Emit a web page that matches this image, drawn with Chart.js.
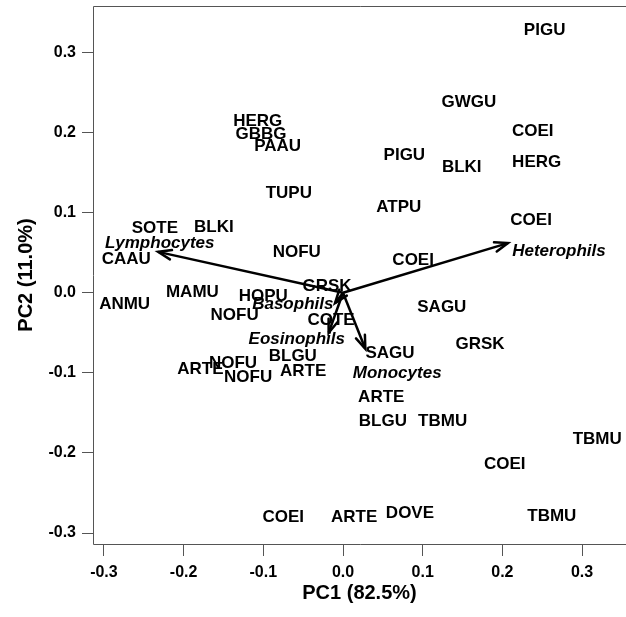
<!DOCTYPE html>
<html>
<head>
<meta charset="utf-8">
<script src="https://cdn.jsdelivr.net/npm/chart.js@4"></script>
<style>
  body { margin: 0; background: #fff; }
  canvas { display: block; }
</style>
</head>
<body>
<canvas id="pcaChart" width="626" height="617"></canvas>
<script>
// Site/species scores (PC1, PC2)
const birdLabels = ['PIGU', 'GWGU', 'COEI', 'HERG', 'GBBG', 'PAAU', 'PIGU', 'BLKI', 'HERG', 'TUPU',
    'ATPU', 'COEI', 'SOTE', 'BLKI', 'CAAU', 'NOFU', 'COEI', 'ANMU', 'MAMU', 'HOPU',
    'GRSK', 'NOFU', 'COTE', 'SAGU', 'GRSK', 'SAGU', 'BLGU', 'NOFU', 'ARTE', 'NOFU',
    'ARTE', 'ARTE', 'BLGU', 'TBMU', 'TBMU', 'COEI', 'COEI', 'ARTE', 'DOVE', 'TBMU'];
const pc1 = [0.253, 0.158, 0.238, -0.107, -0.103, -0.082, 0.077, 0.149, 0.243, -0.068,
    0.070, 0.236, -0.236, -0.162, -0.272, -0.058, 0.088, -0.274, -0.189, -0.100,
    -0.020, -0.136, -0.015, 0.124, 0.172, 0.059, -0.063, -0.138, -0.179, -0.119,
    -0.050, 0.048, 0.050, 0.125, 0.319, 0.203, -0.075, 0.014, 0.084, 0.262];
const pc2 = [0.328, 0.238, 0.201, 0.214, 0.198, 0.183, 0.172, 0.157, 0.163, 0.124,
    0.107, 0.091, 0.080, 0.082, 0.042, 0.051, 0.041, -0.015, 0.000, -0.004,
    0.008, -0.028, -0.034, -0.018, -0.064, -0.076, -0.079, -0.088, -0.096, -0.105,
    -0.098, -0.130, -0.161, -0.161, -0.183, -0.214, -0.280, -0.281, -0.275, -0.279];

// Loadings (arrows) and where their names sit
const cellTypes = ['Lymphocytes', 'Heterophils', 'Monocytes', 'Eosinophils', 'Basophils'];
const loadX = [-0.232, 0.207, 0.028, -0.018, -0.010];
const loadY = [0.051, 0.062, -0.070, -0.050, -0.013];
const cellLabelX = [-0.230, 0.271, 0.068, -0.058, -0.063];
const cellLabelY = [0.062, 0.052, -0.100, -0.058, -0.014];

const tickValues = [-0.3, -0.2, -0.1, 0.0, 0.1, 0.2, 0.3];

const FONT = '"Liberation Sans", Arial, sans-serif';

// Build datasets
const scorePoints = pc1.map((x, i) => ({ x: x, y: pc2[i] }));
const arrowSets = cellTypes.map((name, i) => ({
    type: 'line',
    label: name,
    data: [{ x: 0, y: 0 }, { x: loadX[i], y: loadY[i] }],
    borderColor: '#000',
    borderWidth: 2.5,
    pointRadius: 0,
    fill: false
}));

// no extra room for edge tick labels, the frame is fixed
function noEdgePadding(axis) {
    axis.paddingTop = 0;
    axis.paddingBottom = 0;
    axis.paddingLeft = 0;
    axis.paddingRight = 0;
}

// Draw frame, text labels and arrow heads
const biplotPlugin = {
    id: 'biplot',
    beforeDatasetsDraw(chart) {
        const ctx = chart.ctx;
        const a = chart.chartArea;
        ctx.save();
        ctx.strokeStyle = '#555';
        ctx.lineWidth = 1;
        ctx.beginPath();
        ctx.moveTo(a.right + 5, a.top + 0.5);
        ctx.lineTo(a.left + 0.5, a.top + 0.5);
        ctx.lineTo(a.left + 0.5, a.bottom + 0.5);
        ctx.lineTo(a.right + 5, a.bottom + 0.5);
        ctx.stroke();
        ctx.restore();
    },
    afterDatasetsDraw(chart) {
        const ctx = chart.ctx;
        const xs = chart.scales.x;
        const ys = chart.scales.y;
        ctx.save();
        ctx.fillStyle = '#000';
        ctx.textAlign = 'center';
        ctx.textBaseline = 'middle';

        ctx.font = 'bold 17px ' + FONT;
        const meta = chart.getDatasetMeta(0);
        meta.data.forEach((pt, i) => {
            ctx.fillText(birdLabels[i], pt.x, pt.y);
        });

        // arrow heads
        ctx.strokeStyle = '#000';
        ctx.lineWidth = 2.5;
        ctx.lineCap = 'round';
        for (let i = 0; i < cellTypes.length; i++) {
            const m = chart.getDatasetMeta(i + 1);
            const p0 = m.data[0], p1 = m.data[1];
            const ang = Math.atan2(p1.y - p0.y, p1.x - p0.x);
            const len = 14, spread = Math.PI / 9;
            ctx.beginPath();
            ctx.moveTo(p1.x - len * Math.cos(ang - spread), p1.y - len * Math.sin(ang - spread));
            ctx.lineTo(p1.x, p1.y);
            ctx.lineTo(p1.x - len * Math.cos(ang + spread), p1.y - len * Math.sin(ang + spread));
            ctx.stroke();
        }

        ctx.font = 'italic bold 17px ' + FONT;
        cellTypes.forEach((name, i) => {
            ctx.fillText(name, xs.getPixelForValue(cellLabelX[i]), ys.getPixelForValue(cellLabelY[i]));
        });
        ctx.restore();
    }
};

new Chart(document.getElementById('pcaChart'), {
    type: 'scatter',
    data: {
        datasets: [{
            label: 'scores',
            data: scorePoints,
            pointRadius: 0,
            pointHoverRadius: 0
        }].concat(arrowSets)
    },
    options: {
        responsive: false,
        animation: false,
        layout: { padding: { top: 6, right: 0, bottom: 0, left: 0 } },
        plugins: {
            legend: { display: false },
            tooltip: { enabled: false }
        },
        scales: {
            x: {
                type: 'linear',
                min: -0.3137,
                max: 0.3551,
                afterBuildTicks: axis => { axis.ticks = tickValues.map(v => ({ value: v })); },
                afterFit: axis => { axis.height = 73; noEdgePadding(axis); },
                grid: { drawOnChartArea: false, drawTicks: true, tickLength: 12, color: '#555' },
                border: { display: false },
                ticks: {
                    padding: 7,
                    color: '#000',
                    font: { family: FONT, size: 16, weight: 'bold' },
                    callback: v => v.toFixed(1)
                },
                title: {
                    display: true,
                    text: 'PC1 (82.5%)',
                    color: '#000',
                    font: { family: FONT, size: 20, weight: 'bold' },
                    padding: { top: 0, bottom: 12 }
                }
            },
            y: {
                type: 'linear',
                min: -0.3137,
                max: 0.3580,
                afterBuildTicks: axis => { axis.ticks = tickValues.map(v => ({ value: v })); },
                afterFit: axis => { axis.width = 93; noEdgePadding(axis); },
                grid: { drawOnChartArea: false, drawTicks: true, tickLength: 11, color: '#555' },
                border: { display: false },
                ticks: {
                    padding: 6,
                    color: '#000',
                    font: { family: FONT, size: 16, weight: 'bold' },
                    callback: v => v.toFixed(1)
                },
                title: {
                    display: true,
                    text: 'PC2 (11.0%)',
                    color: '#000',
                    font: { family: FONT, size: 20, weight: 'bold' },
                    padding: { top: 14, bottom: 0 }
                }
            }
        }
    },
    plugins: [biplotPlugin]
});
</script>
</body>
</html>
